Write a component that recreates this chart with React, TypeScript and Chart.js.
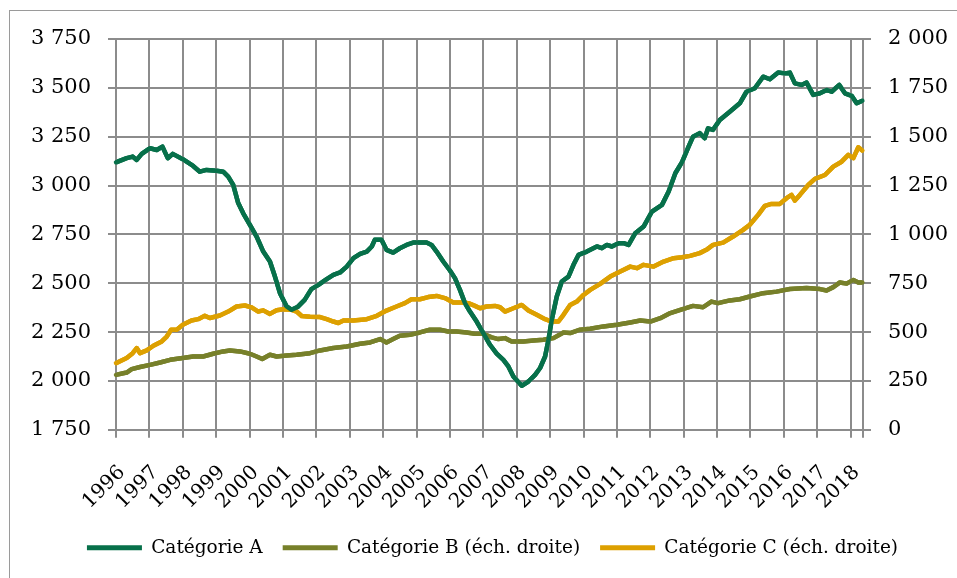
import React, { useEffect, useRef } from 'react';
import { Chart, registerables } from 'chart.js';

Chart.register(...registerables);

// Tick labels (years) on the horizontal axis
const yearTicks = [1996, 1997, 1998, 1999, 2000, 2001, 2002, 2003, 2004, 2005, 2006, 2007, 2008, 2009, 2010, 2011, 2012, 2013, 2014, 2015, 2016, 2017, 2018];
const xEnd = 2018.37;

const legendNames = ['Catégorie A', 'Catégorie B (éch. droite)', 'Catégorie C (éch. droite)'];

// Catégorie A (left scale)
const catATime = [1996.0, 1996.32, 1996.5, 1996.62, 1996.77, 1997.02, 1997.22, 1997.39, 1997.55, 1997.7, 1998.0, 1998.31, 1998.51, 1998.71, 1999.01, 1999.21, 1999.36, 1999.51, 1999.66, 1999.81, 2000.01, 2000.21, 2000.41, 2000.61, 2000.76, 2000.91, 2001.11, 2001.26, 2001.45, 2001.65, 2001.85, 2002.05, 2002.31, 2002.51, 2002.71, 2002.91, 2003.11, 2003.31, 2003.51, 2003.66, 2003.75, 2003.95, 2004.1, 2004.3, 2004.5, 2004.7, 2004.9, 2005.1, 2005.3, 2005.45, 2005.6, 2005.8, 2006.0, 2006.15, 2006.3, 2006.45, 2006.6, 2006.8, 2007.0, 2007.2, 2007.4, 2007.6, 2007.75, 2007.9, 2008.15, 2008.35, 2008.55, 2008.7, 2008.85, 2008.95, 2009.05, 2009.2, 2009.35, 2009.55, 2009.7, 2009.85, 2010.1, 2010.4, 2010.55, 2010.7, 2010.85, 2011.05, 2011.2, 2011.35, 2011.55, 2011.8, 2012.05, 2012.35, 2012.55, 2012.75, 2012.95, 2013.15, 2013.28, 2013.48, 2013.63, 2013.73, 2013.88, 2014.08, 2014.38, 2014.68, 2014.88, 2015.13, 2015.38, 2015.58, 2015.83, 2016.03, 2016.18, 2016.33, 2016.53, 2016.68, 2016.88, 2017.08, 2017.28, 2017.43, 2017.66, 2017.83, 2018.03, 2018.18, 2018.35];
const catAValues = [3119, 3140, 3148, 3131, 3162, 3191, 3182, 3199, 3140, 3162, 3135, 3100, 3071, 3080, 3076, 3071, 3046, 3003, 2910, 2858, 2799, 2739, 2662, 2611, 2534, 2449, 2381, 2364, 2380, 2415, 2470, 2490, 2521, 2543, 2555, 2585, 2628, 2650, 2662, 2688, 2722, 2722, 2671, 2657, 2679, 2696, 2708, 2708, 2708, 2696, 2662, 2611, 2565, 2526, 2466, 2398, 2355, 2304, 2244, 2185, 2140, 2108, 2074, 2023, 1975, 1997, 2031, 2066, 2125, 2210, 2313, 2432, 2509, 2534, 2594, 2645, 2662, 2688, 2679, 2696, 2688, 2705, 2705, 2696, 2756, 2790, 2867, 2901, 2969, 3063, 3120, 3200, 3250, 3268, 3242, 3293, 3285, 3336, 3378, 3421, 3480, 3498, 3557, 3544, 3578, 3574, 3578, 3523, 3515, 3527, 3464, 3472, 3489, 3480, 3515, 3472, 3459, 3421, 3434];

// Catégorie B (right scale)
const catBTime = [1996.0, 1996.32, 1996.47, 1996.72, 1997.02, 1997.32, 1997.62, 1998.0, 1998.31, 1998.61, 1998.91, 1999.21, 1999.41, 1999.71, 2000.01, 2000.21, 2000.38, 2000.61, 2000.81, 2001.11, 2001.41, 2001.81, 2002.11, 2002.51, 2002.91, 2003.31, 2003.61, 2003.91, 2004.1, 2004.3, 2004.5, 2004.8, 2005.1, 2005.4, 2005.7, 2005.95, 2006.2, 2006.5, 2006.75, 2007.0, 2007.25, 2007.45, 2007.65, 2007.85, 2008.2, 2008.5, 2008.8, 2009.1, 2009.4, 2009.6, 2009.9, 2010.2, 2010.6, 2011.0, 2011.4, 2011.7, 2012.0, 2012.3, 2012.6, 2012.9, 2013.28, 2013.58, 2013.83, 2014.03, 2014.38, 2014.68, 2014.98, 2015.38, 2015.78, 2016.18, 2016.68, 2017.08, 2017.28, 2017.48, 2017.68, 2017.88, 2018.08, 2018.23, 2018.35];
const catBValues = [281, 293, 310, 321, 332, 344, 358, 367, 375, 375, 389, 401, 406, 401, 389, 375, 362, 384, 375, 380, 384, 392, 406, 418, 426, 440, 447, 464, 447, 464, 481, 486, 498, 512, 512, 503, 503, 498, 491, 491, 473, 464, 469, 452, 452, 457, 461, 469, 498, 495, 512, 517, 529, 537, 549, 559, 554, 571, 597, 614, 634, 627, 656, 648, 662, 668, 682, 699, 707, 720, 725, 720, 713, 730, 754, 748, 767, 754, 754];

// Catégorie C (right scale)
const catCTime = [1996.0, 1996.32, 1996.5, 1996.62, 1996.72, 1996.92, 1997.12, 1997.37, 1997.52, 1997.65, 1997.82, 1998.0, 1998.26, 1998.46, 1998.66, 1998.81, 1999.11, 1999.36, 1999.61, 1999.86, 2000.06, 2000.26, 2000.41, 2000.61, 2000.81, 2001.01, 2001.26, 2001.41, 2001.56, 2001.81, 2002.11, 2002.31, 2002.51, 2002.66, 2002.81, 2003.11, 2003.51, 2003.81, 2004.1, 2004.4, 2004.65, 2004.85, 2005.1, 2005.35, 2005.6, 2005.85, 2006.1, 2006.35, 2006.55, 2006.75, 2006.9, 2007.1, 2007.35, 2007.5, 2007.65, 2007.9, 2008.15, 2008.35, 2008.6, 2008.85, 2009.05, 2009.25, 2009.4, 2009.6, 2009.8, 2010.0, 2010.2, 2010.5, 2010.8, 2011.1, 2011.4, 2011.6, 2011.8, 2012.1, 2012.4, 2012.7, 2012.95, 2013.19, 2013.48, 2013.68, 2013.88, 2014.18, 2014.48, 2014.78, 2014.98, 2015.23, 2015.43, 2015.63, 2015.88, 2016.08, 2016.23, 2016.33, 2016.48, 2016.73, 2016.93, 2017.23, 2017.48, 2017.73, 2017.93, 2018.08, 2018.23, 2018.35];
const catCValues = [341, 367, 392, 418, 392, 406, 430, 452, 477, 512, 512, 537, 559, 566, 583, 572, 585, 605, 631, 636, 626, 605, 611, 593, 612, 617, 614, 605, 582, 578, 577, 566, 554, 546, 559, 559, 566, 583, 610, 631, 648, 668, 668, 679, 685, 674, 651, 651, 648, 634, 622, 631, 634, 627, 605, 622, 639, 610, 588, 566, 554, 554, 588, 639, 656, 690, 716, 747, 784, 810, 835, 827, 844, 835, 861, 878, 883, 890, 904, 921, 946, 958, 989, 1023, 1049, 1100, 1146, 1156, 1156, 1185, 1202, 1173, 1202, 1253, 1284, 1304, 1347, 1372, 1407, 1390, 1446, 1429];

const colorA = '#07704A';
const colorB = '#77802A';
const colorC = '#DDA000';
const gridColor = '#8c8c8c';
const frameColor = '#9a9a9a';
const fontFamily = '"DejaVu Serif", serif';

const toPoints = (t: number[], v: number[]) => t.map((x, i) => ({ x, y: v[i] }));
const fmt = (v: number) => String(v).replace(/\B(?=(\d{3})+(?!\d))/g, ' ');

// Grid inside the plot, placed from the library's own scales; the series lines are
// then stroked again by their own Chart.js line elements so they stay above the grid.
const plotGrid = {
  id: 'plotGrid',
  afterDatasetsDraw(chart: any) {
    const { ctx, scales } = chart;
    const xs = scales.x;
    const ys = scales.y;
    ctx.save();
    ctx.globalAlpha = 1;
    ctx.globalCompositeOperation = 'source-over';
    ctx.setLineDash([]);
    ctx.strokeStyle = gridColor;
    ctx.lineWidth = 2;
    ctx.beginPath();
    xs.ticks.forEach((t: any) => {
      const px = Math.round(xs.getPixelForValue(t.value));
      ctx.moveTo(px, ys.top);
      ctx.lineTo(px, ys.bottom);
    });
    ys.ticks.forEach((t: any) => {
      const py = Math.round(ys.getPixelForValue(t.value));
      ctx.moveTo(xs.left, py);
      ctx.lineTo(xs.right, py);
    });
    ctx.stroke();
    ctx.beginPath();
    ctx.rect(xs.left - 3, ys.top - 3, xs.right - xs.left + 6, ys.bottom - ys.top + 6);
    ctx.clip();
    const metas = chart.getSortedVisibleDatasetMetas();
    for (let i = metas.length - 1; i >= 0; i--) {
      metas[i].dataset.draw(ctx, chart.chartArea);
    }
    ctx.restore();
  },
};

// Outer chart frame (top and left edges are inside the picture)
const frame = {
  id: 'frame',
  afterDraw(chart: any) {
    const { ctx } = chart;
    ctx.save();
    ctx.strokeStyle = frameColor;
    ctx.lineWidth = 1;
    ctx.strokeRect(9.5, 10.5, 1000, 1000);
    ctx.restore();
  },
};

export default function App() {
  const ref = useRef<HTMLCanvasElement | null>(null);

  useEffect(() => {
    if (!ref.current) return;
    const lineStyle = {
      borderWidth: 4.5,
      pointRadius: 0,
      tension: 0,
      fill: false,
      borderCapStyle: 'round',
      borderJoinStyle: 'round',
    };
    const chart = new Chart(ref.current, {
      type: 'line',
      data: {
        datasets: [
          { ...lineStyle, label: legendNames[0], data: toPoints(catATime, catAValues), borderColor: colorA, backgroundColor: colorA, yAxisID: 'y' },
          { ...lineStyle, label: legendNames[1], data: toPoints(catBTime, catBValues), borderColor: colorB, backgroundColor: colorB, yAxisID: 'y1' },
          { ...lineStyle, label: legendNames[2], data: toPoints(catCTime, catCValues), borderColor: colorC, backgroundColor: colorC, yAxisID: 'y1' },
        ],
      },
      plugins: [plotGrid, frame],
      options: {
        responsive: false,
        animation: false,
        layout: { padding: { left: 28, right: 0, top: 39, bottom: 11 } },
        plugins: {
          tooltip: { enabled: false },
          legend: {
            position: 'bottom',
            labels: {
              boxWidth: 55,
              boxHeight: 5,
              padding: 20,
              color: '#000',
              font: { family: fontFamily, size: 18.5 },
              generateLabels: (c: any) =>
                Chart.defaults.plugins.legend.labels.generateLabels(c).map((l: any) => ({
                  ...l,
                  lineWidth: 0,
                  fillStyle: l.strokeStyle,
                })),
            },
          },
        },
        scales: {
          x: {
            type: 'linear',
            min: 1996,
            max: xEnd,
            afterBuildTicks: (s: any) => {
              s.ticks = [...yearTicks.map((v) => ({ value: v })), { value: xEnd }];
            },
            afterFit: (s: any) => {
              s.height = 88.75;
            },
            ticks: {
              autoSkip: false,
              minRotation: 45,
              maxRotation: 45,
              padding: 23,
              labelOffset: 6,
              color: '#000',
              font: { family: fontFamily, size: 20 },
              callback: (v: any) => (Number.isInteger(v) ? String(v) : ''),
            },
            grid: { drawOnChartArea: false, color: gridColor, lineWidth: 2, tickLength: 8 },
            border: { color: gridColor, width: 2 },
          },
          y: {
            position: 'left',
            min: 1750,
            max: 3750,
            afterFit: (s: any) => {
              s.width = 88;
            },
            ticks: {
              stepSize: 250,
              padding: 17,
              color: '#000',
              font: { family: fontFamily, size: 21 },
              callback: (v: any) => fmt(Number(v)),
            },
            grid: { drawOnChartArea: false, color: gridColor, lineWidth: 2, tickLength: 8 },
            border: { color: gridColor, width: 2 },
          },
          y1: {
            position: 'right',
            min: 0,
            max: 2000,
            afterFit: (s: any) => {
              s.width = 94;
            },
            ticks: {
              stepSize: 250,
              padding: 17,
              color: '#000',
              font: { family: fontFamily, size: 21 },
              callback: (v: any) => fmt(Number(v)),
            },
            grid: { drawOnChartArea: false, color: gridColor, lineWidth: 2, tickLength: 8 },
            border: { color: gridColor, width: 2 },
          },
        },
      },
    } as any);
    return () => chart.destroy();
  }, []);

  return (
    <div style={{ position: 'fixed', left: 0, top: 0, width: 957, height: 578, background: '#fff' }}>
      <canvas ref={ref} width={957} height={578} style={{ width: 957, height: 578, display: 'block' }} />
    </div>
  );
}
